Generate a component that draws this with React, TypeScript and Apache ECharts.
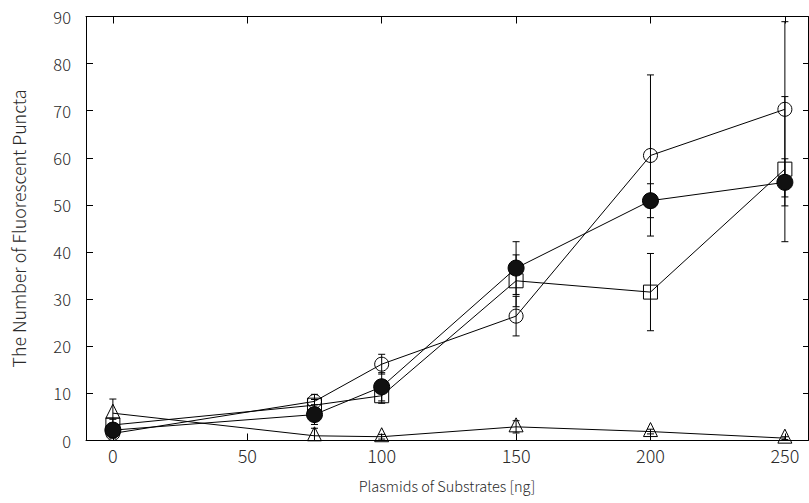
import React, { useEffect, useRef } from "react";
import * as echarts from "echarts";

// Data
const xValues = [0, 75, 100, 150, 200, 250];
const xTicks = [0, 50, 100, 150, 200, 250];

const openCircle = [1.5, 8.3, 16.2, 26.4, 60.5, 70.3];
const openCircleErr = [1.0, 1.5, 2.1, 4.2, 17.1, 18.6];

const openSquare = [3.3, 7.5, 9.5, 33.9, 31.5, 57.6];
const openSquareErr = [1.2, 1.2, 1.6, 5.5, 8.2, 15.4];

const filledCircle = [2.2, 5.5, 11.4, 36.6, 50.9, 54.8];
const filledCircleErr = [1.5, 2.1, 3.0, 5.6, 3.6, 5.0];

const openTriangle = [5.8, 1.0, 0.8, 2.9, 1.9, 0.5];
const openTriangleErr = [3.0, 1.6, 0.5, 1.3, 0.5, 0.3];

const xName = "Plasmids of Substrates [ng]";
const yName = "The Number of Fluorescent Puncta";

const FONT = "Noto Sans CJK JP";
const TXT = "#2a2a2a";
const WEIGHT = 300;

function errData(vals: number[], errs: number[]) {
  return xValues.map((x, i) => [x, vals[i] - errs[i], vals[i] + errs[i]]);
}

function errSeries(vals: number[], errs: number[]) {
  return {
    type: "custom",
    xAxisIndex: 0,
    yAxisIndex: 0,
    clip: true,
    silent: true,
    encode: { x: 0, y: [1, 2] },
    data: errData(vals, errs),
    renderItem: (params: any, api: any) => {
      const x = api.value(0);
      const lo = Math.max(0, api.value(1));
      const hi = api.value(2);
      const p1 = api.coord([x, hi]);
      const p2 = api.coord([x, lo]);
      const w = 3.5;
      const st = { stroke: "#000", lineWidth: 1 };
      return {
        type: "group",
        children: [
          { type: "line", shape: { x1: p1[0], y1: p1[1], x2: p2[0], y2: p2[1] }, style: st },
          { type: "line", shape: { x1: p1[0] - w, y1: p1[1], x2: p1[0] + w, y2: p1[1] }, style: st },
          { type: "line", shape: { x1: p2[0] - w, y1: p2[1], x2: p2[0] + w, y2: p2[1] }, style: st },
        ],
      };
    },
  };
}

function lineSeries(vals: number[], symbol: string, size: number, filled: boolean, offset: number[] = [0, 0]) {
  return {
    type: "line",
    xAxisIndex: 0,
    yAxisIndex: 0,
    data: xValues.map((x, i) => [x, vals[i]]),
    symbol,
    symbolSize: size,
    symbolOffset: offset,
    showAllSymbol: true,
    lineStyle: { color: "#000", width: 1 },
    itemStyle: {
      color: filled ? "#111" : "rgba(0,0,0,0)",
      borderColor: "#000",
      borderWidth: 1,
    },
    emphasis: { disabled: true },
  };
}

export default function App() {
  const ref = useRef<HTMLDivElement>(null);
  useEffect(() => {
    const chart = echarts.init(ref.current!, null, { renderer: "svg" });
    const xMin = -10;
    const xMax = 258.6;
    const axisLine = { show: true, onZero: false, lineStyle: { color: "#000", width: 1 } };
    chart.setOption({
      animation: false,
      grid: { left: 86, right: 1, top: 16.5, bottom: 62.5, containLabel: false },
      xAxis: [
        {
          type: "value",
          min: xMin,
          max: xMax,
          position: "bottom",
          axisLine,
          splitLine: { show: false },
          axisTick: { show: true, inside: true, length: 7, customValues: xTicks, lineStyle: { color: "#000" } },
          axisLabel: {
            show: true,
            customValues: xTicks,
            fontSize: 18,
            fontWeight: WEIGHT,
            color: TXT,
            fontFamily: FONT,
            margin: 5,
          },
          name: xName,
          nameLocation: "middle",
          nameGap: 38,
          nameTextStyle: { fontSize: 14.5, fontWeight: WEIGHT, color: TXT, fontFamily: FONT },
        },
        {
          type: "value",
          min: xMin,
          max: xMax,
          position: "top",
          axisLine,
          splitLine: { show: false },
          axisTick: { show: true, inside: true, length: 7, customValues: xTicks, lineStyle: { color: "#000" } },
          axisLabel: { show: false },
        },
      ],
      yAxis: [
        {
          type: "value",
          min: 0,
          max: 90,
          interval: 10,
          position: "left",
          axisLine,
          splitLine: { show: false },
          axisTick: { show: true, inside: true, length: 7, lineStyle: { color: "#000" } },
          axisLabel: { fontSize: 16.5, fontWeight: WEIGHT, color: TXT, fontFamily: FONT, margin: 15 },
          name: yName,
          nameLocation: "middle",
          nameGap: 59,
          nameTextStyle: { fontSize: 17.8, fontWeight: WEIGHT, color: TXT, fontFamily: FONT },
        },
        {
          type: "value",
          min: 0,
          max: 90,
          interval: 10,
          position: "right",
          axisLine,
          splitLine: { show: false },
          axisTick: { show: true, inside: true, length: 5, lineStyle: { color: "#000" } },
          axisLabel: { show: false },
        },
      ],
      series: [
        errSeries(openCircle, openCircleErr),
        errSeries(openSquare, openSquareErr),
        errSeries(filledCircle, filledCircleErr),
        errSeries(openTriangle, openTriangleErr),
        lineSeries(openTriangle, "triangle", 14, false, [0, -2]),
        lineSeries(openSquare, "rect", 14, false),
        lineSeries(openCircle, "circle", 14, false),
        lineSeries(filledCircle, "circle", 16, true),
      ],
    });
    return () => chart.dispose();
  }, []);
  return (
    <div
      ref={ref}
      style={{ position: "absolute", left: 0, top: 0, width: 809, height: 503, background: "#fff" }}
    />
  );
}
